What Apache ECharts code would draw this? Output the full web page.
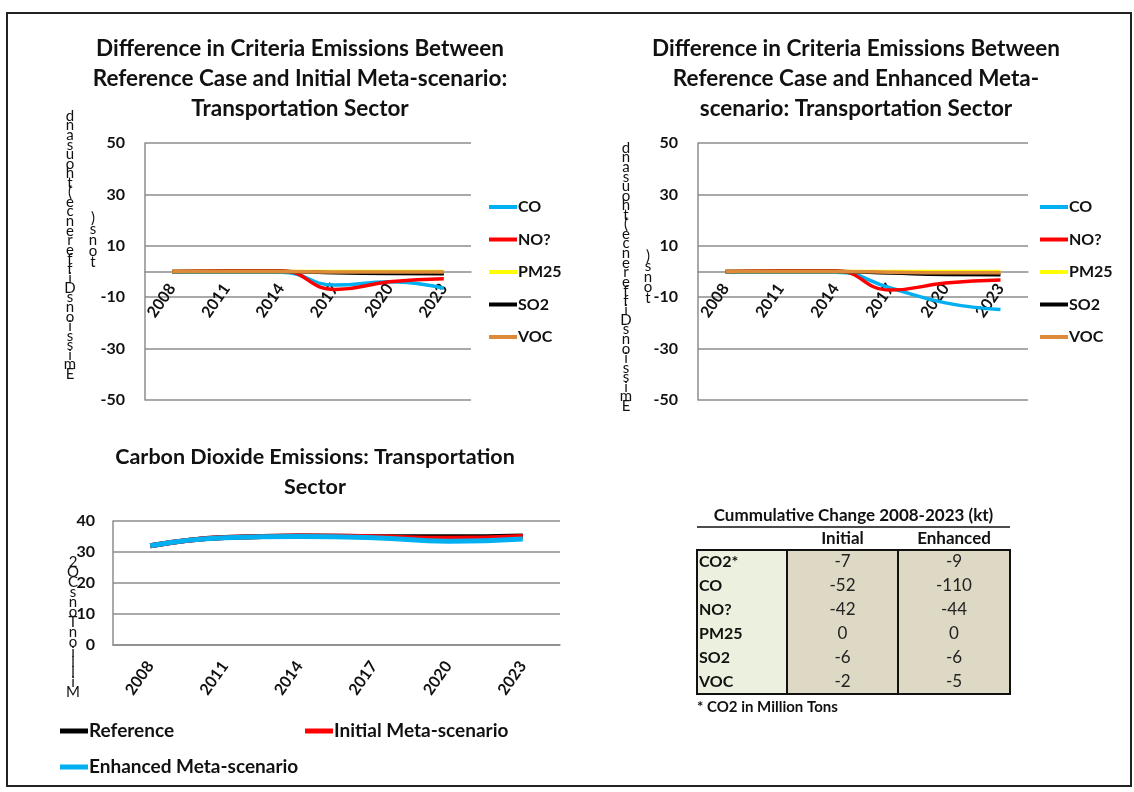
<!DOCTYPE html>
<html><head><meta charset="utf-8">
<script src="https://cdn.jsdelivr.net/npm/echarts@6/dist/echarts.min.js"></script>
<style>html,body{margin:0;padding:0;background:#fff}#c{width:1134px;height:792px}</style>
</head><body><div id="c"></div>
<script>
// ---------- data ----------
const years = ['2008', '2011', '2014', '2017', '2020', '2023'];
const pollutants = ['CO', 'NO?', 'PM25', 'SO2', 'VOC'];

const coInitial   = [-0.3, -0.3, -0.3, -5.3, -4.0, -6.5];
const noxInitial  = [0, 0.3, 0.3, -7.0, -4.0, -2.8];
const pm25Initial = [0, 0, 0, 0, 0, 0];
const so2Initial  = [0, 0, 0, -0.5, -0.8, -0.9];
const vocInitial  = [0, 0, 0, -0.2, -0.2, -0.2];

const coEnhanced   = [-0.3, -0.3, -0.3, -6.4, -12.2, -14.8];
const noxEnhanced  = [0, 0.3, 0.3, -7.2, -4.5, -3.3];
const pm25Enhanced = [0, 0, 0, 0, 0, 0];
const so2Enhanced  = [0, 0, 0, -0.6, -1.2, -1.3];
const vocEnhanced  = [0, 0, 0, -0.3, -0.5, -0.5];

const co2Names     = ['Reference', 'Initial Meta-scenario', 'Enhanced Meta-scenario'];
const co2Reference = [32.0, 34.7, 35.2, 34.9, 34.9, 35.2];
const co2Initial   = [32.0, 34.7, 35.2, 34.9, 34.4, 35.0];
const co2Enhanced  = [32.0, 34.6, 35.0, 34.6, 33.5, 34.2];

const tableTitle    = 'Cummulative Change 2008-2023 (kt)';
const tableHeaders  = ['Initial', 'Enhanced'];
const tableRows     = ['CO2*', 'CO', 'NO?', 'PM25', 'SO2', 'VOC'];
const tableInitial  = ['-7', '-52', '-42', '0', '-6', '-2'];
const tableEnhanced = ['-9', '-110', '-44', '0', '-6', '-5'];
const tableNote     = '* CO2 in Million Tons';

const titleInitial  = 'Difference in Criteria Emissions Between\nReference Case and Initial Meta-scenario:\nTransportation Sector';
const titleEnhanced = 'Difference in Criteria Emissions Between\nReference Case and Enhanced Meta-\nscenario: Transportation Sector';
const titleCO2      = 'Carbon Dioxide Emissions: Transportation\nSector';
// axis names as they appear (stacked, reversed glyphs)
const diffAxisName1 = 'dnasuoht(ecnereffiDsnoissimE';
const diffAxisName2 = ')snot';
const co2AxisName   = '2OCsnoTnoilliM';

// ---------- styles ----------
const FONT = 'Lato, "Open Sans", sans-serif';
const pollColors = { 'CO': '#00B0F0', 'NO?': '#FF0000', 'PM25': '#FFFF00', 'SO2': '#000000', 'VOC': '#DD8A3A' };
const co2Colors = ['#000000', '#FF0000', '#00B0F0'];
const gridGray = '#8C8C8C';

const initialSets  = [coInitial, noxInitial, pm25Initial, so2Initial, vocInitial];
const enhancedSets = [coEnhanced, noxEnhanced, pm25Enhanced, so2Enhanced, vocEnhanced];
const co2Sets = [co2Reference, co2Initial, co2Enhanced];

function xAxisCfg(gridIndex, offset, margin) {
  return {
    type: 'category', gridIndex: gridIndex, data: years, boundaryGap: true,
    offset: offset,
    axisTick: { show: false },
    axisLine: { onZero: false, lineStyle: { color: gridGray, width: 1.5 } },
    axisLabel: { interval: 0, rotate: 55, margin: margin, color: '#111', fontFamily: FONT, fontWeight: 'bold', fontSize: 16 }
  };
}
function yAxisCfg(gridIndex, min, max, interval, margin) {
  return {
    type: 'value', gridIndex: gridIndex, min: min, max: max, interval: interval,
    axisLine: { show: true, lineStyle: { color: gridGray, width: 1.5 } },
    axisTick: { show: false },
    splitLine: { lineStyle: { color: gridGray, width: 1.5 } },
    axisLabel: { color: '#111', fontFamily: FONT, fontWeight: 'bold', fontSize: 16, margin: margin }
  };
}

const series = [];
pollutants.forEach((p, i) => {
  series.push({ name: p, type: 'line', xAxisIndex: 0, yAxisIndex: 0, data: initialSets[i], smooth: true,
    symbol: 'none', lineStyle: { width: 3.5, color: pollColors[p] }, itemStyle: { color: pollColors[p] } });
});
pollutants.forEach((p, i) => {
  series.push({ name: p, type: 'line', xAxisIndex: 1, yAxisIndex: 1, data: enhancedSets[i], smooth: true,
    symbol: 'none', lineStyle: { width: 3.5, color: pollColors[p] }, itemStyle: { color: pollColors[p] } });
});
co2Names.forEach((n, i) => {
  series.push({ name: n, type: 'line', xAxisIndex: 2, yAxisIndex: 2, data: co2Sets[i], smooth: true,
    symbol: 'none', lineStyle: { width: 5, color: co2Colors[i] }, itemStyle: { color: co2Colors[i] } });
});

function legendCfg(data, left, top, fontSize, itemHeight) {
  return {
    data: data, left: left, top: top, orient: 'vertical', icon: 'rect',
    itemWidth: 28, itemHeight: itemHeight, itemGap: 12.5, padding: 0,
    textStyle: { fontFamily: FONT, fontWeight: 'bold', fontSize: fontSize, color: '#111', lineHeight: 20, padding: [0, 0, 0, -4] }
  };
}

// ---------- graphic: border, stacked axis names, table ----------
const graphic = [];
graphic.push({ type: 'rect', shape: { x: 7, y: 13, width: 1124, height: 773 }, style: { fill: 'none', stroke: '#222', lineWidth: 2 } });

function stacked(str, x, y0, y1) {
  const chars = str.split('');
  const lh = (y1 - y0) / Math.max(1, chars.length - 1);
  graphic.push({ type: 'text', x: x, y: y0 - lh / 2, style: { text: chars.join('\n'), font: '15px ' + FONT, fill: '#111', lineHeight: lh, textAlign: 'center', textVerticalAlign: 'top' } });
}
stacked(diffAxisName1, 70, 116, 374);
stacked(diffAxisName2, 93, 218, 262);
stacked(diffAxisName1, 626, 148, 406);
stacked(diffAxisName2, 648, 256, 298);
stacked(co2AxisName, 73, 562, 692);

// table
const tL = 697, tR = 1010, c1 = 787, c2 = 898, tTop = 550, rowH = 24;
const tBottom = tTop + rowH * tableRows.length;
graphic.push({ type: 'text', x: (tL + tR) / 2, y: 516, style: { text: tableTitle, font: 'bold 17px ' + FONT, fill: '#111', textAlign: 'center', textVerticalAlign: 'middle' } });
graphic.push({ type: 'line', shape: { x1: tL, y1: 527, x2: tR, y2: 527 }, style: { stroke: '#111', lineWidth: 1.5 } });
graphic.push({ type: 'text', x: (c1 + c2) / 2, y: 539, style: { text: tableHeaders[0], font: 'bold 17px ' + FONT, fill: '#111', textAlign: 'center', textVerticalAlign: 'middle' } });
graphic.push({ type: 'text', x: (c2 + tR) / 2, y: 539, style: { text: tableHeaders[1], font: 'bold 17px ' + FONT, fill: '#111', textAlign: 'center', textVerticalAlign: 'middle' } });
graphic.push({ type: 'rect', shape: { x: tL, y: tTop, width: c1 - tL, height: tBottom - tTop }, style: { fill: '#EBF1DE' } });
graphic.push({ type: 'rect', shape: { x: c1, y: tTop, width: tR - c1, height: tBottom - tTop }, style: { fill: '#DDD9C4' } });
tableRows.forEach((r, i) => {
  const cy = tTop + rowH * i + rowH / 2;
  graphic.push({ type: 'text', x: tL + 2, y: cy, style: { text: r, font: 'bold 16px ' + FONT, fill: '#111', textAlign: 'left', textVerticalAlign: 'middle' } });
  graphic.push({ type: 'text', x: (c1 + c2) / 2, y: cy, style: { text: tableInitial[i], font: '17px ' + FONT, fill: '#222', textAlign: 'center', textVerticalAlign: 'middle' } });
  graphic.push({ type: 'text', x: (c2 + tR) / 2, y: cy, style: { text: tableEnhanced[i], font: '17px ' + FONT, fill: '#222', textAlign: 'center', textVerticalAlign: 'middle' } });
});
graphic.push({ type: 'rect', shape: { x: tL, y: tTop, width: tR - tL, height: tBottom - tTop }, style: { fill: 'none', stroke: '#111', lineWidth: 2 } });
graphic.push({ type: 'line', shape: { x1: c1, y1: tTop, x2: c1, y2: tBottom }, style: { stroke: '#111', lineWidth: 2 } });
graphic.push({ type: 'line', shape: { x1: c2, y1: tTop, x2: c2, y2: tBottom }, style: { stroke: '#111', lineWidth: 2 } });
graphic.push({ type: 'text', x: tL, y: 707, style: { text: tableNote, font: 'bold 15px ' + FONT, fill: '#111', textAlign: 'left', textVerticalAlign: 'middle' } });

const titleStyle = { fontFamily: FONT, fontWeight: 'bold', fontSize: 22.5, lineHeight: 30, color: '#111' };
const titleStyleCO2 = Object.assign({}, titleStyle, { fontSize: 21.5 });

const option = {
  animation: false,
  backgroundColor: '#fff',
  title: [
    { text: titleInitial, left: 300, top: 34, textAlign: 'center', padding: 0, textStyle: titleStyle },
    { text: titleEnhanced, left: 856, top: 34, textAlign: 'center', padding: 0, textStyle: titleStyle },
    { text: titleCO2, left: 315, top: 442, textAlign: 'center', padding: 0, textStyle: titleStyleCO2 }
  ],
  grid: [
    { left: 145, top: 143, width: 326, height: 257, containLabel: false },
    { left: 698, top: 143, width: 330, height: 257, containLabel: false },
    { left: 113, top: 521, width: 447, height: 124, containLabel: false }
  ],
  xAxis: [xAxisCfg(0, -128.5, 14), xAxisCfg(1, -128.5, 14), xAxisCfg(2, 0, 18)],
  yAxis: [yAxisCfg(0, -50, 50, 20, 20), yAxisCfg(1, -50, 50, 20, 20), yAxisCfg(2, 0, 40, 10, 18)],
  legend: [
    legendCfg(pollutants, 489, 197, 16, 4),
    legendCfg(pollutants, 1040, 197, 16, 4),
    legendCfg([co2Names[0]], 60, 721, 19, 5),
    legendCfg([co2Names[1]], 305, 721, 19, 5),
    legendCfg([co2Names[2]], 60, 757, 19, 5)
  ],
  series: series,
  graphic: graphic
};

const chart = echarts.init(document.getElementById('c'), null, { renderer: 'canvas' });
chart.setOption(option);
</script>
</body></html>
